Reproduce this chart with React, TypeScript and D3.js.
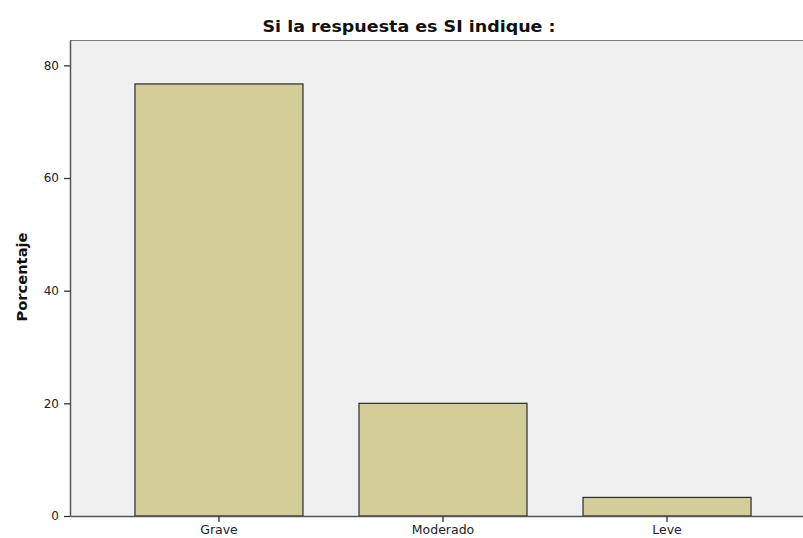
import * as d3 from "d3";
import React, { useEffect, useRef } from "react";

const width = 803;
const height = 538;

const categories = ["Grave", "Moderado", "Leve"];
const percentages = [76.7, 20.0, 3.3];
const yTicks = [0, 20, 40, 60, 80];

const margin = { top: 40, right: -13, bottom: 22, left: 70 };

export default function App() {
  const holderRef = useRef<HTMLDivElement | null>(null);

  useEffect(() => {
    const holder = holderRef.current;
    if (!holder || holder.hasChildNodes()) return;

    const svg = d3
      .select(holder)
      .append("svg")
      .attr("width", width)
      .attr("height", height)
      .attr(
        "style",
        "position:fixed; left:0; top:0; display:block; background:#fff; font-family: 'DejaVu Sans', sans-serif;"
      );

    const x = d3
      .scaleBand()
      .domain(categories)
      .range([margin.left, width - margin.right])
      .paddingInner(0.25)
      .paddingOuter(0.29);

    const y = d3
      .scaleLinear()
      .domain([0, 84.5])
      .range([height - margin.bottom, margin.top]);

    // plot background (the frame runs off the right edge)
    svg
      .append("rect")
      .attr("x", margin.left)
      .attr("y", margin.top)
      .attr("width", width - margin.right - margin.left)
      .attr("height", height - margin.bottom - margin.top)
      .attr("fill", "#f0f0f0");

    svg
      .append("line")
      .attr("x1", margin.left)
      .attr("x2", width)
      .attr("y1", margin.top + 0.5)
      .attr("y2", margin.top + 0.5)
      .attr("stroke", "#7a7a7a")
      .attr("stroke-width", 1);

    // bars
    svg
      .append("g")
      .selectAll()
      .data(categories)
      .join("rect")
      .attr("x", (d) => x(d)!)
      .attr("y", (d, i) => y(percentages[i]))
      .attr("width", x.bandwidth())
      .attr("height", (d, i) => y(0) - y(percentages[i]))
      .attr("fill", "#d3cd98")
      .attr("stroke", "#2b2b2b")
      .attr("stroke-width", 1.2);

    // y axis
    const yAxis = svg
      .append("g")
      .attr("transform", `translate(${margin.left},0)`)
      .call(d3.axisLeft(y).tickValues(yTicks).tickSize(6).tickSizeOuter(0).tickPadding(5));
    yAxis.select(".domain").attr("stroke", "#555").attr("stroke-width", 1.5);
    yAxis.selectAll(".tick line").attr("stroke", "#333").attr("stroke-width", 1.3);
    yAxis
      .selectAll(".tick text")
      .attr("font-family", "'DejaVu Sans', sans-serif")
      .attr("font-size", 12)
      .attr("fill", "#222");

    // x axis
    const xAxis = svg
      .append("g")
      .attr("transform", `translate(0,${y(0)})`)
      .call(d3.axisBottom(x).tickSize(6).tickSizeOuter(0).tickPadding(3));
    xAxis.select(".domain").attr("stroke", "#555").attr("stroke-width", 1.5);
    xAxis.selectAll(".tick line").attr("stroke", "#333").attr("stroke-width", 1.3);
    xAxis
      .selectAll(".tick text")
      .attr("font-family", "'DejaVu Sans', sans-serif")
      .attr("font-size", 12.5)
      .attr("fill", "#222");

    // title
    svg
      .append("text")
      .attr("x", 409)
      .attr("y", 32)
      .attr("text-anchor", "middle")
      .attr("font-size", 16)
      .attr("font-weight", "bold")
      .attr("fill", "#111")
      .attr("textLength", 293)
      .attr("lengthAdjust", "spacingAndGlyphs")
      .text("Si la respuesta es SI indique :");

    // y label
    svg
      .append("text")
      .attr("transform", `translate(27,277) rotate(-90)`)
      .attr("text-anchor", "middle")
      .attr("font-size", 14)
      .attr("font-weight", "bold")
      .attr("fill", "#111")
      .attr("textLength", 89)
      .attr("lengthAdjust", "spacingAndGlyphs")
      .text("Porcentaje");
  }, []);

  return <div ref={holderRef} />;
}
